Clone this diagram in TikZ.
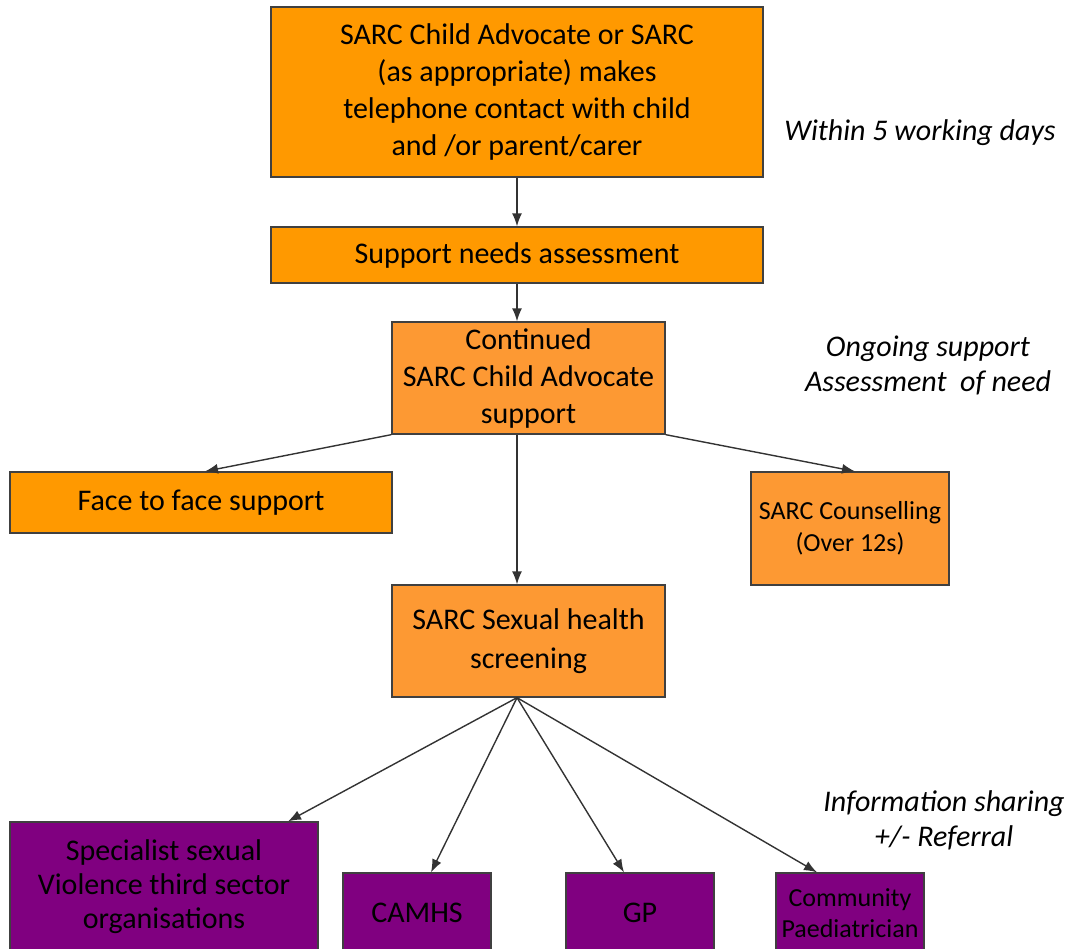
\documentclass[tikz,border=0pt]{standalone}
\usepackage{fontspec}
\setmainfont{Carlito}
\usetikzlibrary{arrows.meta}
\definecolor{sarcorange}{RGB}{255,153,0}
\definecolor{sarclight}{RGB}{253,153,51}
\definecolor{sarcpurple}{RGB}{128,0,128}

\begin{document}
\begin{tikzpicture}[->,>={Latex[length=13pt,width=10pt]},node distance=100pt,
    main box/.style={rectangle,draw=black!75,line width=1.3pt,inner sep=0pt,align=center,font=\fontsize{30}{37}\selectfont},
    note/.style={align=center,font=\itshape\fontsize{30}{35}\selectfont}]
                \clip (0,0) rectangle (1076pt,-948pt);

                \node [main box, fill=sarcorange, minimum width=492pt, minimum height=170pt](1) at (517pt,-92pt){SARC Child Advocate or SARC\\(as appropriate) makes\\telephone contact with child\\and /or parent/carer};
                \node [main box, fill=sarcorange, minimum width=492pt, minimum height=56pt](2) [below of=1, yshift=-63pt]{Support needs assessment};
                \node [main box, fill=sarclight, minimum width=273pt, minimum height=112pt](3) [below of=2, xshift=11.5pt, yshift=-23pt]{Continued\\SARC Child Advocate\\support};

                \node [main box, fill=sarcorange, minimum width=382pt, minimum height=61pt](4) [below of=3, xshift=-327.5pt, yshift=-24.5pt]{Face to face support};
                \node [main box, fill=sarclight, minimum width=198pt, minimum height=113pt, font=\fontsize{26}{32}\selectfont](5) [below of=3, xshift=321.5pt, yshift=-50.5pt]{SARC Counselling\\(Over 12s)};
                \node [main box, fill=sarclight, minimum width=273pt, minimum height=112pt, font=\fontsize{30}{39}\selectfont](6) [below of=3, yshift=-163pt]{SARC Sexual health\\screening};

                \node [main box, fill=sarcpurple, minimum width=308pt, minimum height=130pt, font=\fontsize{30}{34}\selectfont](7) [below of=6, xshift=-364.5pt, yshift=-146pt]{Specialist sexual\\Violence third sector\\organisations};
                \node [main box, fill=sarcpurple, minimum width=148pt, minimum height=80pt](8) [below of=6, xshift=-111.5pt, yshift=-172pt]{CAMHS};
                \node [main box, fill=sarcpurple, minimum width=148pt, minimum height=80pt](9) [below of=6, xshift=111.5pt, yshift=-172pt]{GP};
                \node [main box, fill=sarcpurple, minimum width=148pt, minimum height=80pt, font=\fontsize{26}{31}\selectfont](10) [below of=6, xshift=321.5pt, yshift=-172pt]{Community\\Paediatrician};

                \node [note](11) [right of=1, xshift=303pt, yshift=-41pt]{Within 5 working days};
                \node [note](12) [right of=3, xshift=299.5pt, yshift=12.5pt]{Ongoing support\\Assessment~ of need};
                \node [note](13) [above of=10, xshift=94pt, yshift=-7.5pt]{Information sharing\\+/- Referral};

                \path[every edge/.style={draw=black!80, line width=1.4pt}]
                    (1) edge (2)
                    (2) edge ([xshift=-11.5pt]3.north)
                    (3.south west) edge ([xshift=4pt]4.north)
                    (3.south east) edge ([xshift=5pt]5.north)
                    ([xshift=-11.5pt]3.south) edge ([xshift=-11.5pt]6.north)

                    ([xshift=-11.5pt]6.south) edge ([xshift=124pt]7.north)
                    ([xshift=-11.5pt]6.south) edge ([xshift=14pt]8.north)
                    ([xshift=-11.5pt]6.south) edge ([xshift=-16pt]9.north)
                    ([xshift=-11.5pt]6.south) edge ([xshift=-33pt]10.north)
                    ;
            \end{tikzpicture}
\end{document}
